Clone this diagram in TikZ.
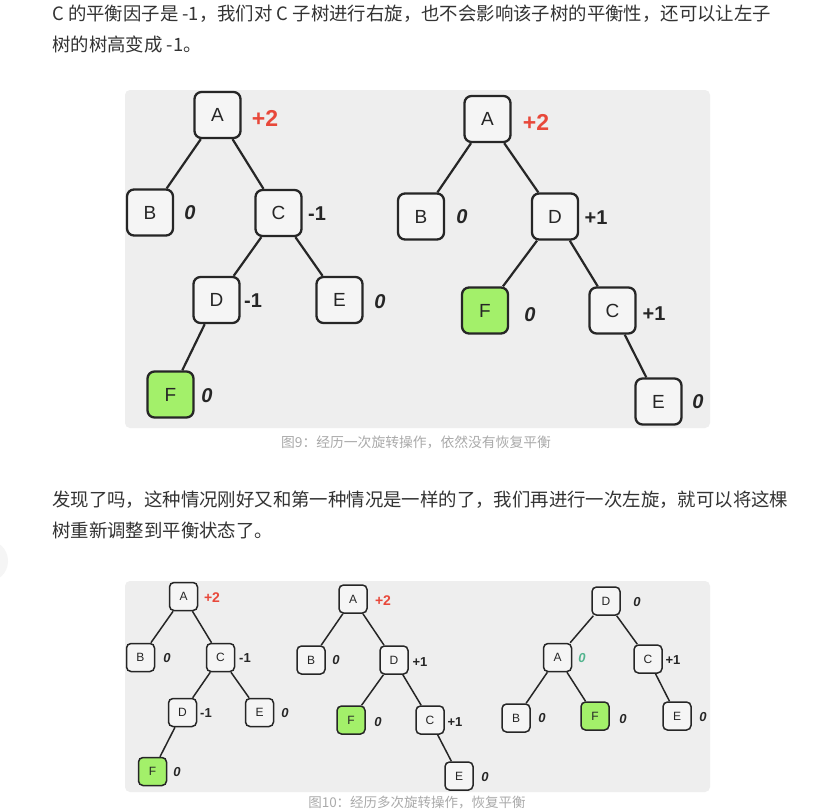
\documentclass[tikz,border=0pt]{standalone}
\usepackage{fontspec}
\setmainfont{Liberation Sans}
\newfontfamily\cjk{Noto Sans CJK SC}
\newfontfamily\boxfont{Liberation Sans}
\definecolor{txt}{HTML}{333333}
\definecolor{cap}{HTML}{AAAAAA}
\definecolor{panel}{HTML}{EEEEEE}
\definecolor{nodegreen}{HTML}{A3F06A}
\definecolor{redlab}{HTML}{E8483A}
\definecolor{teallab}{HTML}{52B48E}
\definecolor{ink}{HTML}{262626}
\tikzset{
  para/.style={anchor=west, inner sep=0pt, text=txt, font=\cjk\fontsize{18.4}{18.4}\selectfont},
  captxt/.style={inner sep=0pt, text=cap, font=\cjk\fontsize{13.8}{13.8}\selectfont},
  bigbox/.style={draw=ink, fill=panel!60!white, line width=2.3pt, rounded corners=7pt, minimum size=46pt, inner sep=0pt, text=ink, font=\boxfont\fontsize{19}{19}\selectfont},
  smallbox/.style={draw=ink, fill=panel!60!white, line width=1.5pt, rounded corners=4.5pt, minimum size=28pt, inner sep=0pt, text=ink, font=\boxfont\fontsize{12}{12}\selectfont},
  greenbox/.style={fill=nodegreen},
  bigedge/.style={draw=ink, line width=2.2pt},
  smalledge/.style={draw=ink, line width=1.5pt},
  bigzero/.style={inner sep=0pt, text=ink, font=\bfseries\itshape\fontsize{20}{20}\selectfont},
  biglab/.style={inner sep=0pt, text=ink, font=\bfseries\fontsize{20}{20}\selectfont},
  bigred/.style={inner sep=0pt, text=redlab, font=\bfseries\fontsize{23}{23}\selectfont},
  smallzero/.style={inner sep=0pt, text=ink, font=\bfseries\itshape\fontsize{13}{13}\selectfont},
  smalllab/.style={inner sep=0pt, text=ink, font=\bfseries\fontsize{13}{13}\selectfont},
  smallred/.style={inner sep=0pt, text=redlab, font=\bfseries\fontsize{14}{14}\selectfont},
}
\begin{document}
\begin{tikzpicture}[x=1pt, y=-1pt]
\useasboundingbox[fill=white] (0,0) rectangle (825,811);
% faint circle at left edge
\fill[black!4] (-13,561) circle (21);
% paragraphs
\node[para] (p1a) at (52,14) {C 的平衡因子是 -1，我们对 C 子树进行右旋，也不会影响该子树的平衡性，还可以让左子};
\node[para] (p1b) at (52,44) {树的树高变成 -1。};
\node[para] (p2a) at (52,500) {发现了吗，这种情况刚好又和第一种情况是一样的了，我们再进行一次左旋，就可以将这棵};
\node[para] (p2b) at (52,530) {树重新调整到平衡状态了。};
% panels
\fill[panel, rounded corners=5pt] (125,90) rectangle (710,428);
\fill[panel, rounded corners=5pt] (125,581) rectangle (710,792);
\node[captxt] (cap1) at (416,442) {图9：经历一次旋转操作，依然没有恢复平衡};
\node[captxt, font=\cjk\fontsize{13.5}{13.5}\selectfont] (cap2) at (417,802.5) {图10：经历多次旋转操作，恢复平衡};

% ---------- Figure 9, left tree ----------
\node[bigbox] (la) at (217.5,115) {A};
\node[bigbox] (lb) at (150,212.5) {B};
\node[bigbox] (lc) at (278.5,213) {C};
\node[bigbox] (ld) at (216.5,300) {D};
\node[bigbox] (le) at (339.5,300) {E};
\node[bigbox, greenbox] (lf) at (170.5,394.5) {F};
\draw[bigedge] (la) -- (lb);
\draw[bigedge] (la) -- (lc);
\draw[bigedge] (lc) -- (ld);
\draw[bigedge] (lc) -- (le);
\draw[bigedge] (ld) -- (lf);
\node[bigred] (laL) at (265,118) {+2};
\node[bigzero] (lbL) at (190,213) {0};
\node[biglab] (lcL) at (317,214) {-1};
\node[biglab] (ldL) at (253,301) {-1};
\node[bigzero] (leL) at (380,302) {0};
\node[bigzero] (lfL) at (207,396) {0};

% ---------- Figure 9, right tree ----------
\node[bigbox] (ra) at (487.5,119) {A};
\node[bigbox] (rb) at (421,216.5) {B};
\node[bigbox] (rd) at (555,216.5) {D};
\node[bigbox, greenbox] (rf) at (485,310.5) {F};
\node[bigbox] (rc) at (612.5,310.5) {C};
\node[bigbox] (re) at (658.5,401.5) {E};
\draw[bigedge] (ra) -- (rb);
\draw[bigedge] (ra) -- (rd);
\draw[bigedge] (rd) -- (rf);
\draw[bigedge] (rd) -- (rc);
\draw[bigedge] (rc) -- (re);
\node[bigred] (raL) at (536,122) {+2};
\node[bigzero] (rbL) at (462,217) {0};
\node[biglab] (rdL) at (596,218) {+1};
\node[bigzero] (rfL) at (530,315) {0};
\node[biglab] (rcL) at (654,314) {+1};
\node[bigzero] (reL) at (698,402) {0};

% ---------- Figure 10, tree 1 ----------
\node[smallbox] (sa) at (183.5,596.5) {A};
\node[smallbox] (sb) at (140.5,657.5) {B};
\node[smallbox] (sc) at (220.5,657.5) {C};
\node[smallbox] (sd) at (182.5,712.5) {D};
\node[smallbox] (se) at (259.5,712.5) {E};
\node[smallbox, greenbox] (sf) at (152.5,771.5) {F};
\draw[smalledge] (sa) -- (sb);
\draw[smalledge] (sa) -- (sc);
\draw[smalledge] (sc) -- (sd);
\draw[smalledge] (sc) -- (se);
\draw[smalledge] (sd) -- (sf);
\node[smallred] (saL) at (212,598) {+2};
\node[smallzero] (sbL) at (167,658) {0};
\node[smalllab] (scL) at (245,658) {-1};
\node[smalllab] (sdL) at (206,713) {-1};
\node[smallzero] (seL) at (285,713) {0};
\node[smallzero] (sfL) at (177,772) {0};

% ---------- Figure 10, tree 2 ----------
\node[smallbox] (ta) at (353,599) {A};
\node[smallbox] (tb) at (311,660) {B};
\node[smallbox] (td) at (394,660) {D};
\node[smallbox, greenbox] (tf) at (351,720) {F};
\node[smallbox] (tc) at (430,720) {C};
\node[smallbox] (te) at (459,776) {E};
\draw[smalledge] (ta) -- (tb);
\draw[smalledge] (ta) -- (td);
\draw[smalledge] (td) -- (tf);
\draw[smalledge] (td) -- (tc);
\draw[smalledge] (tc) -- (te);
\node[smallred] (taL) at (383,601) {+2};
\node[smallzero] (tbL) at (336,660) {0};
\node[smalllab] (tdL) at (420,662) {+1};
\node[smallzero] (tfL) at (378,722) {0};
\node[smalllab] (tcL) at (455,722) {+1};
\node[smallzero] (teL) at (485,777) {0};

% ---------- Figure 10, tree 3 ----------
\node[smallbox] (ud) at (606,601) {D};
\node[smallbox] (ua) at (557.5,657.5) {A};
\node[smallbox] (uc) at (648,659) {C};
\node[smallbox] (ub) at (516,718) {B};
\node[smallbox, greenbox] (uf) at (595,716) {F};
\node[smallbox] (ue) at (677,716) {E};
\draw[smalledge] (ud) -- (ua);
\draw[smalledge] (ud) -- (uc);
\draw[smalledge] (ua) -- (ub);
\draw[smalledge] (ua) -- (uf);
\draw[smalledge] (uc) -- (ue);
\node[smallzero] (udL) at (637,602) {0};
\node[smallzero, text=teallab] (uaL) at (582,658) {0};
\node[smalllab] (ucL) at (673,660) {+1};
\node[smallzero] (ubL) at (542,718) {0};
\node[smallzero] (ufL) at (623,719) {0};
\node[smallzero] (ueL) at (703,717) {0};
\end{tikzpicture}
\end{document}
